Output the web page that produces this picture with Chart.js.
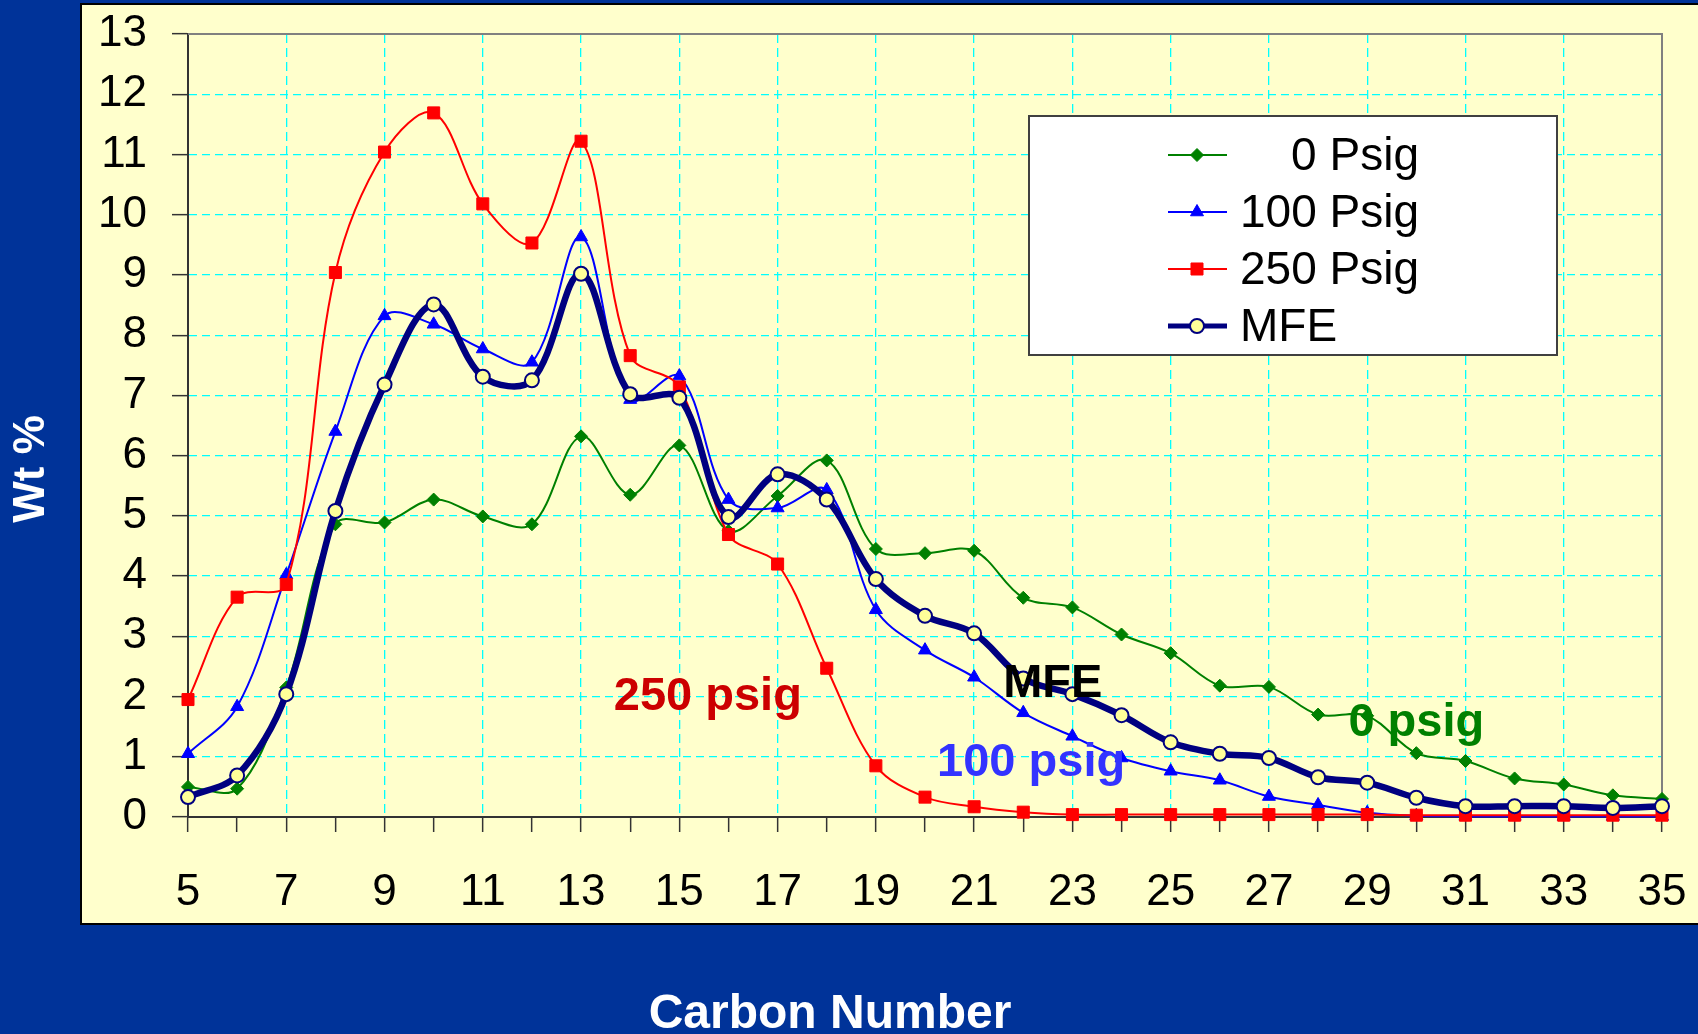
<!DOCTYPE html>
<html>
<head>
<meta charset="utf-8">
<title>Wt % vs Carbon Number</title>
<script src="https://cdn.jsdelivr.net/npm/chart.js@4.4.1/dist/chart.umd.min.js"></script>
<style>
  html, body { margin: 0; padding: 0; background: #003399; overflow: hidden; }
  canvas { display: block; }
</style>
</head>
<body>
<canvas id="chart" width="1698" height="1034"></canvas>
<script>
// carbon numbers on the x axis
const carbon = [5, 6, 7, 8, 9, 10, 11, 12, 13, 14, 15, 16, 17, 18, 19, 20,
                21, 22, 23, 24, 25, 26, 27, 28, 29, 30, 31, 32, 33, 34, 35];

// Wt % for each run
const psig0   = [0.50, 0.47, 2.15, 4.86, 4.89, 5.27, 4.99, 4.86, 6.32, 5.35, 6.17, 4.75, 5.33, 5.92, 4.45, 4.38,
                 4.42, 3.64, 3.48, 3.03, 2.72, 2.18, 2.16, 1.70, 1.68, 1.06, 0.93, 0.64, 0.54, 0.36, 0.30];
const psig100 = [1.05, 1.83, 4.02, 6.40, 8.32, 8.18, 7.77, 7.55, 9.63, 6.93, 7.32, 5.27, 5.13, 5.43, 3.44, 2.77,
                 2.32, 1.73, 1.34, 0.98, 0.76, 0.61, 0.34, 0.20, 0.07, 0.02, 0.01, 0.01, 0.01, 0.01, 0.01];
const psig250 = [1.95, 3.65, 3.86, 9.04, 11.04, 11.69, 10.18, 9.53, 11.22, 7.66, 7.14, 4.69, 4.20, 2.47, 0.85, 0.33,
                 0.17, 0.08, 0.04, 0.04, 0.04, 0.04, 0.04, 0.04, 0.04, 0.03, 0.03, 0.03, 0.03, 0.03, 0.03];
const mfe     = [0.33, 0.69, 2.04, 5.08, 7.18, 8.51, 7.31, 7.25, 9.02, 7.02, 6.96, 4.98, 5.69, 5.27, 3.95, 3.34,
                 3.05, 2.30, 2.04, 1.69, 1.24, 1.05, 0.98, 0.66, 0.57, 0.32, 0.18, 0.18, 0.18, 0.15, 0.18];

const seriesNames = ['    0 Psig', '100 Psig', '250 Psig', 'MFE'];
const yTicks = [0, 13];   // y axis range
const xTicks = [5, 35];   // x axis range

// text labels inside the plot
const notes = [
  { text: '250 psig', x: 15.58, y: 1.99, color: '#CC0000' },
  { text: '100 psig', x: 22.16, y: 0.90, color: '#3333FF' },
  { text: 'MFE',      x: 22.6,  y: 2.21, color: '#000000' },
  { text: '0 psig',   x: 30.0,  y: 1.56, color: '#008000' }
];

const FONT = "'Liberation Sans', Arial, Helvetica, sans-serif";

function pts(vals) {
  return carbon.map((c, i) => ({ x: c, y: vals[i] }));
}

function noPad(s) {
  s.paddingLeft = 0; s.paddingRight = 0; s.paddingTop = 0; s.paddingBottom = 0;
}

// yellow panel + blue background
const panelPlugin = {
  id: 'panel',
  beforeDraw(chart) {
    const ctx = chart.ctx;
    ctx.save();
    ctx.fillStyle = '#003399';
    ctx.fillRect(0, 0, chart.width, chart.height);
    ctx.fillStyle = '#FFFFCC';
    ctx.fillRect(81, 4, chart.width - 81, 920);
    ctx.strokeStyle = '#000000';
    ctx.lineWidth = 2;
    ctx.strokeRect(81, 4, chart.width, 920);
    ctx.restore();
  },
  beforeDatasetsDraw(chart) {
    // gray frame on top and right of plot
    const a = chart.chartArea, ctx = chart.ctx;
    ctx.save();
    ctx.strokeStyle = '#808080';
    ctx.lineWidth = 2;
    ctx.beginPath();
    ctx.moveTo(a.left, a.top);
    ctx.lineTo(a.right, a.top);
    ctx.lineTo(a.right, a.bottom);
    ctx.stroke();
    ctx.restore();
  }
};

// axis titles, in-plot labels and legend box
const extrasPlugin = {
  id: 'extras',
  afterDatasetsDraw(chart) {
    const ctx = chart.ctx;
    const xs = chart.scales.x, ys = chart.scales.y;
    ctx.save();
    ctx.textAlign = 'center';
    ctx.textBaseline = 'middle';

    ctx.font = 'bold 47px ' + FONT;
    notes.forEach(n => {
      ctx.fillStyle = n.color;
      ctx.fillText(n.text, xs.getPixelForValue(n.x), ys.getPixelForValue(n.y));
    });

    // axis titles
    ctx.fillStyle = '#FFFFFF';
    ctx.font = 'bold 48px ' + FONT;
    ctx.fillText('Carbon Number', 830, 1015);
    ctx.save();
    ctx.translate(32, 469);
    ctx.rotate(-Math.PI / 2);
    ctx.font = 'bold 44px ' + FONT;
    ctx.fillText('Wt %', 0, 0);
    ctx.restore();

    // legend
    const bx = 1029, by = 116, bw = 528, bh = 239;
    ctx.fillStyle = '#FFFFFF';
    ctx.fillRect(bx, by, bw, bh);
    ctx.strokeStyle = '#404040';
    ctx.lineWidth = 2;
    ctx.strokeRect(bx, by, bw, bh);

    ctx.font = '46px ' + FONT;
    ctx.textAlign = 'left';
    chart.data.datasets.forEach((ds, i) => {
      const y = 155 + i * 57;
      ctx.strokeStyle = ds.borderColor;
      ctx.lineWidth = Math.min(ds.borderWidth, 5);
      ctx.beginPath();
      ctx.moveTo(1168, y);
      ctx.lineTo(1227, y);
      ctx.stroke();
      ctx.fillStyle = ds.pointBackgroundColor;
      ctx.strokeStyle = ds.pointBorderColor;
      ctx.lineWidth = ds.pointBorderWidth;
      Chart.helpers.drawPoint(ctx, {
        pointStyle: ds.pointStyle, rotation: 0,
        radius: ds.pointRadius, borderWidth: ds.pointBorderWidth
      }, 1197, y);
      ctx.fillStyle = '#000000';
      ctx.fillText(ds.label, 1240, y + 2);
    });
    ctx.restore();
  }
};

new Chart(document.getElementById('chart'), {
  type: 'line',
  data: {
    datasets: [
      {
        label: seriesNames[0], data: pts(psig0), order: 4,
        borderColor: '#008000', borderWidth: 2, tension: 0.35,
        pointStyle: 'rectRot', pointRadius: 6.5,
        pointBackgroundColor: '#008000', pointBorderColor: '#008000', pointBorderWidth: 1,
        clip: false
      },
      {
        label: seriesNames[1], data: pts(psig100), order: 3,
        borderColor: '#0000FF', borderWidth: 2, tension: 0.35,
        pointStyle: 'triangle', pointRadius: 7.5,
        pointBackgroundColor: '#0000FF', pointBorderColor: '#0000FF', pointBorderWidth: 1,
        clip: false
      },
      {
        label: seriesNames[2], data: pts(psig250), order: 2,
        borderColor: '#FF0000', borderWidth: 2, tension: 0.35,
        pointStyle: 'rect', pointRadius: 8.5,
        pointBackgroundColor: '#FF0000', pointBorderColor: '#FF0000', pointBorderWidth: 1,
        clip: false
      },
      {
        label: seriesNames[3], data: pts(mfe), order: 1,
        borderColor: '#000080', borderWidth: 6.5, tension: 0.35,
        pointStyle: 'circle', pointRadius: 7,
        pointBackgroundColor: '#FFFF99', pointBorderColor: '#000080', pointBorderWidth: 2,
        clip: false
      }
    ]
  },
  options: {
    responsive: false,
    animation: false,
    devicePixelRatio: 1,
    layout: { padding: { top: 34, right: 36, left: 0, bottom: 0 } },
    plugins: { legend: { display: false }, tooltip: { enabled: false } },
    scales: {
      x: {
        type: 'linear', min: xTicks[0], max: xTicks[1],
        afterFit(s) { s.height = 217; noPad(s); },
        border: { display: true, color: '#333333', width: 2, dash: [9, 5] },
        grid: {
          color: c => {
            const v = c.tick ? c.tick.value : 0;
            return (v % 2 === 1 && v > xTicks[0] && v < xTicks[1]) ? '#00FFFF' : 'rgba(0,0,0,0)';
          },
          lineWidth: 1.3, tickColor: '#333333', tickLength: 15, tickWidth: 1.5
        },
        ticks: {
          stepSize: 1, autoSkip: false, maxRotation: 0, padding: 34,
          color: '#000000', font: { family: FONT, size: 44 },
          callback: v => (v % 2 === 1 ? String(v) : '')
        }
      },
      y: {
        type: 'linear', min: yTicks[0], max: yTicks[1],
        afterFit(s) { s.width = 188; noPad(s); },
        border: { display: true, color: '#333333', width: 2, dash: [8, 5] },
        grid: {
          color: c => {
            const v = c.tick ? c.tick.value : 0;
            return (v > yTicks[0] && v < yTicks[1]) ? '#00FFFF' : 'rgba(0,0,0,0)';
          },
          lineWidth: 1.3, tickColor: '#333333', tickLength: 16, tickWidth: 1.5
        },
        ticks: {
          stepSize: 1, padding: 25,
          color: '#000000', font: { family: FONT, size: 44 }
        }
      }
    }
  },
  plugins: [panelPlugin, extrasPlugin]
});
</script>
</body>
</html>
